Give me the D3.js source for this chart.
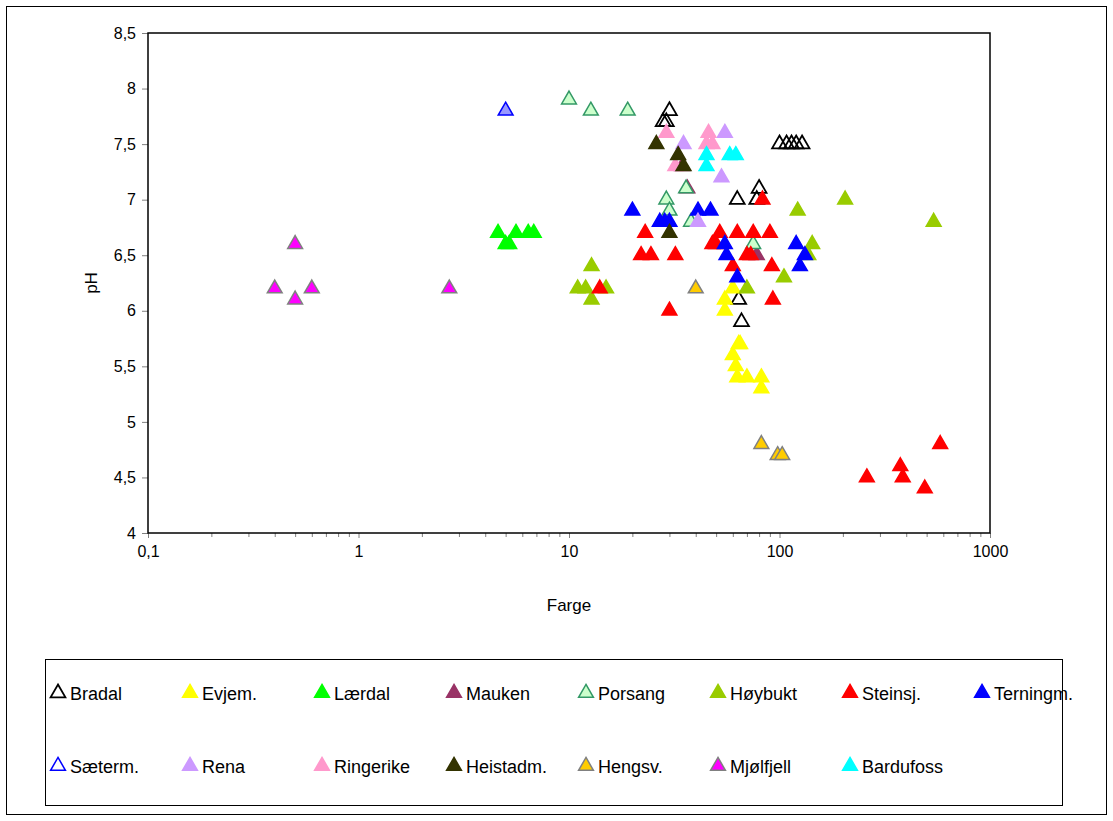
<!DOCTYPE html><html><head><meta charset="utf-8"><script src="https://cdn.jsdelivr.net/npm/d3@7"></script>
<style>body{margin:0;background:#fff}text{font-family:"Liberation Sans",Arial,sans-serif}</style></head><body>
<svg id="c" width="1113" height="821"></svg>
<script>
const seriesNames=["Bradal","Evjem.","Lærdal","Mauken","Porsang","Høybukt","Steinsj.","Terningm.","Sæterm.","Rena","Ringerike","Heistadm.","Hengsv.","Mjølfjell","Bardufoss"];
const fills=["none","#ffff00","#00ff00","#993366","#ccffcc","#99cc00","#ff0000","#0000ff","#9999ff","#cc99ff","#ff99cc","#333300","#ffcc00","#ff00ff","#00ffff"];
const legendFills=["none","#ffff00","#00ff00","#993366","#ccffcc","#99cc00","#ff0000","#0000ff","#ffffff","#cc99ff","#ff99cc","#333300","#ffcc00","#ff00ff","#00ffff"];
const strokes=["#000","#ffff00","#00ff00","#993366","#339966","#99cc00","#ff0000","#0000ff","#0000ff","#cc99ff","#ff99cc","#333300","#808080","#808080","#00ffff"];
const Bradal=[[28,7.7],[30,7.8],[29,7.7],[100,7.5],[108,7.5],[114,7.5],[120,7.5],[128,7.5],[63,7.0],[80,7.1],[78,7.0],[64,6.1],[66,5.9]];
const Evjem=[[55,6.1],[55,6.0],[60,6.2],[60,5.6],[62,5.5],[65,5.7],[63,5.4],[70,5.4],[82,5.4],[82,5.3],[64,5.7]];
const Laerdal=[[4.6,6.7],[5.0,6.6],[5.2,6.6],[5.6,6.7],[6.4,6.7],[6.8,6.7]];
const Mauken=[[36.5,7.1],[78,6.5],[34.5,7.3]];
const Porsang=[[10,7.9],[12.7,7.8],[19,7.8],[29,7.0],[30,6.9],[36,7.1],[38,6.8],[75,6.6]];
const Hoybukt=[[11,6.2],[12,6.2],[12.8,6.4],[12.8,6.1],[15,6.2],[70,6.2],[105,6.3],[122,6.9],[143,6.6],[137,6.5],[205,7.0],[540,6.8]];
const Steinsj=[[22,6.5],[23,6.7],[24.5,6.5],[32,6.5],[14,6.2],[30,6.0],[48,6.6],[50,6.6],[52,6.7],[60,6.4],[63,6.7],[70,6.5],[75,6.7],[90,6.7],[92,6.4],[93,6.1],[83,7.0],[73,6.5],[260,4.5],[375,4.6],[385,4.5],[490,4.4],[580,4.8]];
const Terningm=[[20,6.9],[27,6.8],[28.5,6.8],[30,6.8],[41,6.9],[47,6.9],[55,6.6],[56,6.5],[63,6.3],[120,6.6],[125,6.4],[132,6.5]];
const Saeterm=[[5,7.8]];
const Rena=[[35,7.5],[55,7.6],[53,7.2],[41,6.8]];
const Ringerike=[[29,7.6],[46,7.6],[45,7.5],[48,7.5],[32,7.3]];
const Heistadm=[[26,7.5],[33,7.4],[35,7.3],[30,6.7]];
const Hengsv=[[40,6.2],[82,4.8],[98,4.7],[103,4.7]];
const Mjolfjell=[[0.4,6.2],[0.5,6.6],[0.5,6.1],[0.6,6.2],[2.7,6.2]];
const Bardufoss=[[45,7.4],[45,7.3],[58,7.4],[62,7.4]];
const data=[Bradal,Evjem,Laerdal,Mauken,Porsang,Hoybukt,Steinsj,Terningm,Saeterm,Rena,Ringerike,Heistadm,Hengsv,Mjolfjell,Bardufoss];
const xTicks=[0.1,1,10,100,1000], xLabels=["0,1","1","10","100","1000"];
const yTicks=[4,4.5,5,5.5,6,6.5,7,7.5,8,8.5];

const svg=d3.select("#c");
svg.append("rect").attr("x",6.5).attr("y",6.5).attr("width",1100).attr("height",808).attr("fill","#fff").attr("stroke","#000");
const L=148,R=990,T=33,B=533;
const x=d3.scaleLog().domain([0.1,1000]).range([L,R]);
const y=d3.scaleLinear().domain([4,8.5]).range([B,T]);
const gx=svg.append("g").attr("transform",`translate(0,${B})`).call(d3.axisBottom(x).tickValues(xTicks).tickFormat((d,i)=>xLabels[i]).tickSize(5).tickPadding(8));
const minor=x.ticks().filter(v=>!xTicks.includes(v));
svg.append("g").attr("transform",`translate(0,${B})`).call(d3.axisBottom(x).tickValues(minor).tickFormat("").tickSize(4)).call(g=>g.select(".domain").remove()).selectAll("line").attr("stroke","#808080");
const gy=svg.append("g").attr("transform",`translate(${L},0)`).call(d3.axisLeft(y).tickValues(yTicks).tickFormat(d=>String(d).replace(".",",")).tickSize(6).tickPadding(6));
[gx,gy].forEach(g=>{g.selectAll("text").attr("font-size",16).attr("fill","#000").style("font-family","Liberation Sans");g.select(".domain").remove();g.selectAll("line").attr("stroke","#808080");});
svg.append("rect").attr("x",L).attr("y",T).attr("width",R-L).attr("height",B-T).attr("fill","none").attr("stroke","#000").attr("stroke-width",1.5);
svg.append("text").attr("x",(L+R)/2).attr("y",611).attr("text-anchor","middle").attr("font-size",17).text("Farge");
svg.append("text").attr("transform",`translate(97,${(T+B)/2}) rotate(-90)`).attr("text-anchor","middle").attr("font-size",17).text("pH");
const tri=d3.symbol().type(d3.symbolTriangle).size(95);
data.forEach((s,i)=>{
  svg.append("g").selectAll("path").data(s).join("path").attr("d",tri)
   .attr("transform",d=>`translate(${x(d[0])},${y(d[1])})`)
   .attr("fill",fills[i]).attr("stroke",strokes[i]).attr("stroke-width",i==0?1.8:1.5);
});
svg.append("rect").attr("x",45.5).attr("y",659.5).attr("width",1017).attr("height",146).attr("fill","none").attr("stroke","#000");
seriesNames.forEach((n,i)=>{
  const cx=58+132*(i%8), cy=i<8?694:767;
  svg.append("path").attr("d",tri).attr("transform",`translate(${cx},${cy-1})`).attr("fill",legendFills[i]).attr("stroke",strokes[i]).attr("stroke-width",i==0?1.8:1.5);
  svg.append("text").attr("x",cx+12).attr("y",cy+6).attr("font-size",18).text(n);
});
</script></body></html>
